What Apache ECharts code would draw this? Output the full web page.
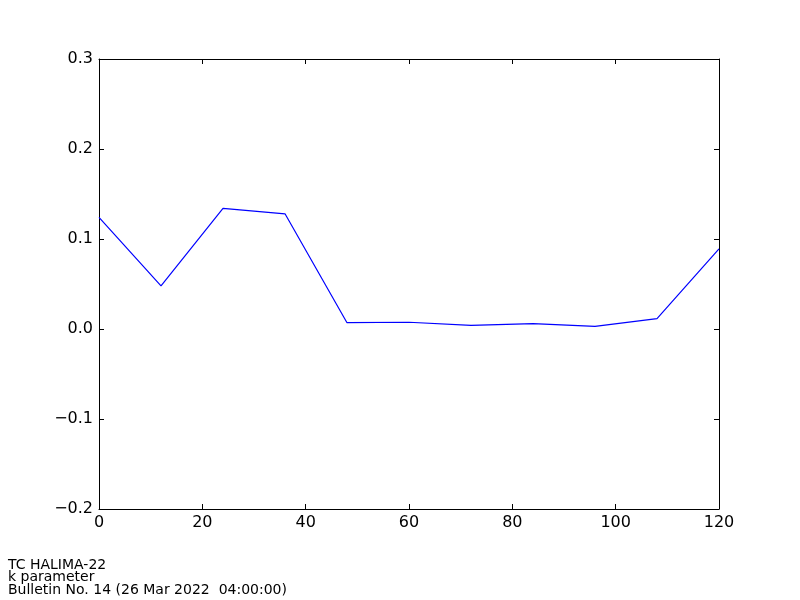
<!DOCTYPE html>
<html>
<head>
<meta charset="utf-8">
<script src="https://cdn.jsdelivr.net/npm/echarts@6/dist/echarts.min.js"></script>
<style>html,body{margin:0;padding:0;background:#fff}#c{width:800px;height:600px}</style>
</head>
<body>
<div id="c"></div>
<script>
var hours = [0, 12, 24, 36, 48, 60, 72, 84, 96, 108, 120];
var kValues = [0.124, 0.048, 0.134, 0.128, 0.007, 0.0075, 0.004, 0.006, 0.003, 0.0115, 0.089];
var footerLines = ["TC HALIMA-22", "k parameter", "Bulletin No. 14 (26 Mar 2022  04:00:00)"];

var chart = echarts.init(document.getElementById('c'), null, {renderer: 'canvas'});
var font = 'DejaVu Sans';
function yfmt(v) {
  var s = Math.abs(v).toFixed(1);
  if (v < -1e-9) return '\u2212' + s;
  return s;
}
var axisCommon = {
  axisLine: {show: true, onZero: false, lineStyle: {color: '#000', width: 1}},
  axisTick: {show: true, inside: true, length: 5, lineStyle: {color: '#000'}},
  splitLine: {show: false}
};
chart.setOption({
  animation: false,
  backgroundColor: '#fff',
  grid: {left: 99, right: 81, top: 59, bottom: 91, containLabel: false},
  xAxis: [
    Object.assign({type: 'value', min: 0, max: 120, interval: 20, position: 'bottom',
      axisLabel: {show: true, fontFamily: font, fontSize: 16, color: '#000', margin: 6}}, axisCommon),
    Object.assign({type: 'value', min: 0, max: 120, interval: 20, position: 'top',
      axisLabel: {show: false}}, axisCommon)
  ],
  yAxis: [
    Object.assign({type: 'value', min: -0.2, max: 0.3, interval: 0.1, position: 'left',
      axisLabel: {show: true, fontFamily: font, fontSize: 16, color: '#000', margin: 6, formatter: yfmt}}, axisCommon),
    Object.assign({type: 'value', min: -0.2, max: 0.3, interval: 0.1, position: 'right',
      axisLabel: {show: false}}, axisCommon)
  ],
  graphic: [{
    type: 'text', left: 8, top: 558,
    style: {text: footerLines.join('\n'), font: '14px "DejaVu Sans"', fill: '#000', lineHeight: 12.5}
  }],
  series: [{
    type: 'line',
    data: hours.map(function (h, i) { return [h, kValues[i]]; }),
    showSymbol: false,
    symbol: 'none',
    lineStyle: {color: '#0000ff', width: 1.2},
    itemStyle: {color: '#0000ff'}
  }]
});
</script>
</body>
</html>
